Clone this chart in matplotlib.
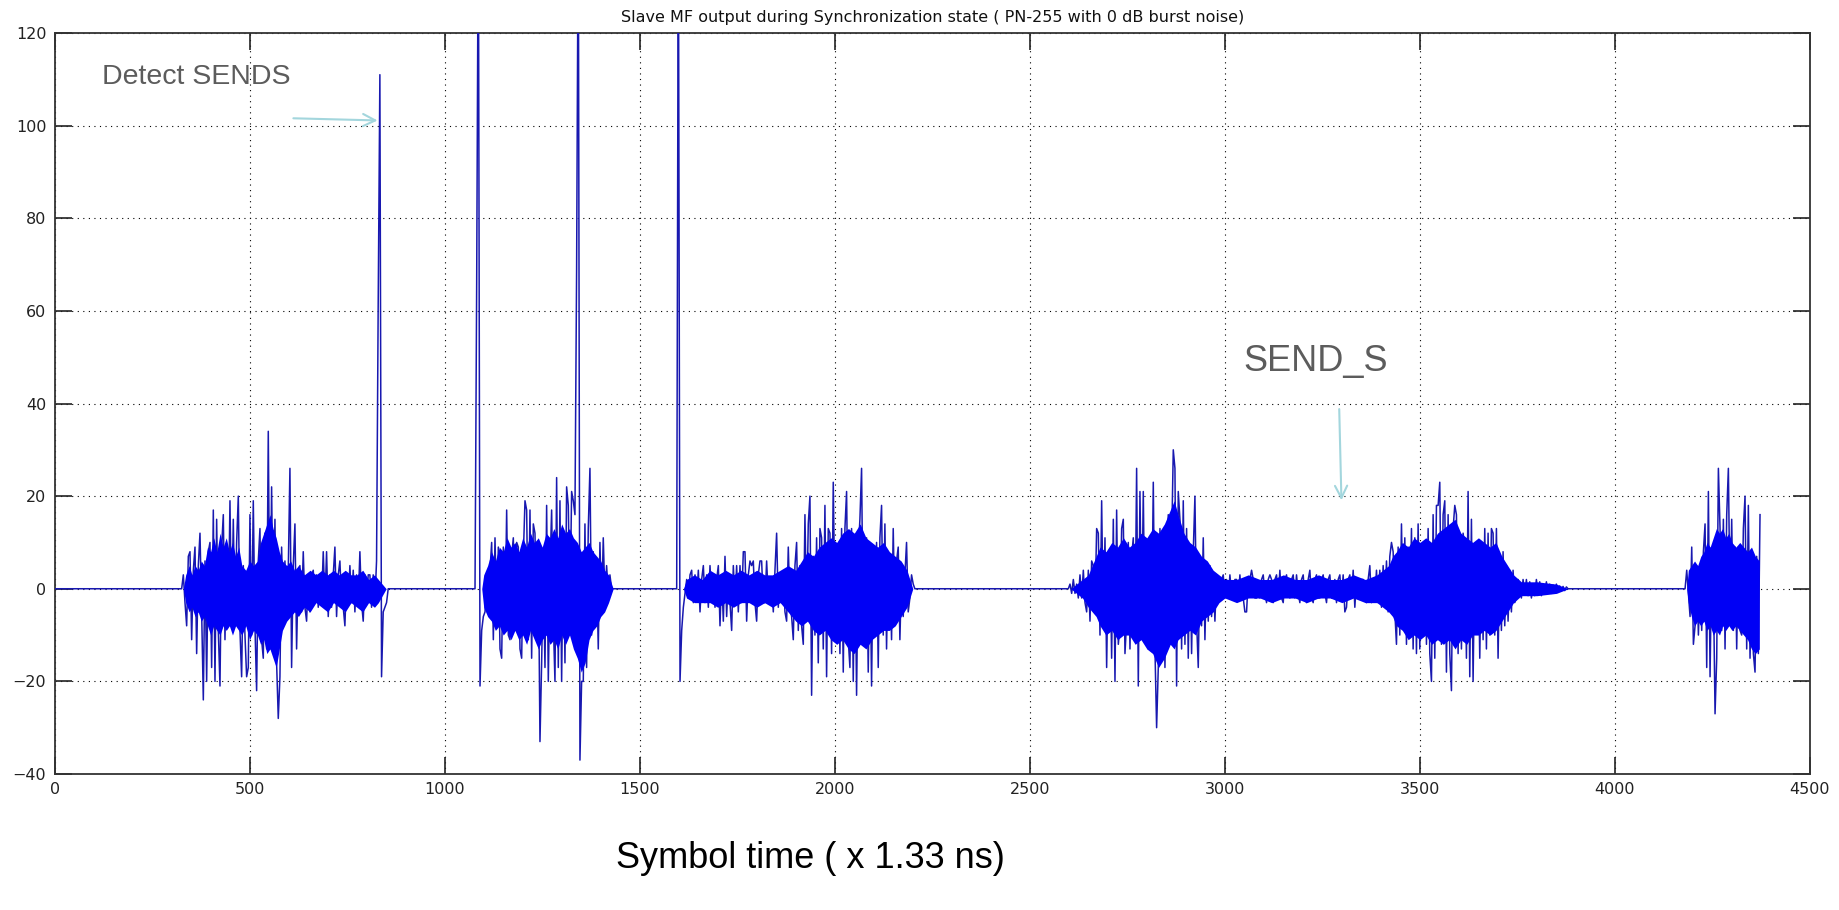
import numpy as np
import matplotlib
matplotlib.use("Agg")
import matplotlib.pyplot as plt

# ---------------- data ----------------
title = "Slave MF output during Synchronization state ( PN-255 with 0 dB burst noise)"
xlabel = "Symbol time ( x 1.33 ns)"
x_ticks = [0, 500, 1000, 1500, 2000, 2500, 3000, 3500, 4000, 4500]
y_ticks = [-40, -20, 0, 20, 40, 60, 80, 100, 120]

sample_step = 4.27          # symbol spacing of the read-off samples
signal_end = 4372

burst1_start = 330.0
burst1 = [3, -3, -8, 7, 8, -11, 4, 9, -14, 5, 12, -5, -24, 6, -20, 8, 10, -17, 17, -20,
          15, -9, -21, 9, 16, -11, 9, -8, 19, -8, 15, -8, 10, 20, -9, -19, 5, -10, -19, -17,
          16, -10, 19, -8, -22, 6, 13, -11, -15, 12, -13, 34, -12, 22, -10, 15, -16, -28, -19, 9,
          -5, 6, -6, 4, 26, -17, 5, 14, -13, 4, 5, -5, 8, -4, -7, 3, -5, 3, 4, -3,
          3, -4, 3, -3, 8, -3, 8, -6, 3, -4, 3, 9, -6, 3, 6, -3, -4, -8, 3, -3,
          5, -3, 4, -5, 3, -3, 8, -3, -7, 3, -3, 3, 3, -4, 3, -3, 6, 62, 111, -19,
          -5, -4, -3, 0]

burst2_start = 1082.0
burst2 = [66, 150, -21, -9, -6, -5, 2, -3, 4, 10, -11, 11, -6, 9, -13, -15, 9, -8, 17, -10,
          -11, 7, 11, -8, 10, 9, -13, -15, 7, 19, 17, -11, 17, -15, 14, 12, -7, 8, -33, -16,
          5, -17, 18, -20, 4, 17, -7, -20, 24, -17, 19, -20, 12, -16, 22, 18, -5, 21, 19, 16,
          69, 150, -37, -20, -20, 14, -17, 13, 26, -10, 8, -6, 5, -13, 10, -5, 11, -2, 5, -1,
          3, 0]

burst3_start = 1599.0
burst3 = [150, -20, -9, -4, -1, 2, -2, 3, 4, -3, 3, -2, 4, -5, 2, 5, -3, 3, -4, 5,
          -2, 3, -4, 2, 5, -8, 3, -7, 7, -6, 3, -3, -9, 5, -3, 5, -5, 5, -3, 8,
          8, -7, 3, 6, 5, 6, -3, -7, 3, 6, 6, -3, -3, 6, -2, -3, 2, -5, 4, 12,
          -4, 3, -3, 3, -5, -7, 9, -4, -6, -11, 5, 10, -9, 5, -8, -12, 16, -6, 14, 20,
          -23, 7, -10, 11, -16, 13, 11, -13, 18, -19, 13, 12, -14, 23, -5, -10, 7, -14, 13, -18,
          13, 21, -11, -17, 13, -20, 11, -23, 8, 15, 26, -10, -12, 11, -18, 9, -21, 9, -9, 10,
          -17, 11, 18, -10, 14, -13, 8, 6, -11, 13, -7, 6, 9, -11, 3, -6, 3, 10, -5, -2,
          3, 1, 0]

burst4_start = 2603.0
burst4 = [1, -1, 2, -1, 1, -2, 3, -2, 4, -3, -5, 4, -7, 6, 5, -4, 13, 12, -10, 19,
          -8, 11, -17, 7, 8, -15, 15, -20, 17, -12, -8, 13, 15, -14, -7, 10, -13, 7, 11, -10,
          26, -21, 21, -9, 21, -11, 8, -13, 11, -9, 23, -13, -30, -17, 13, -10, 7, -17, 8, 16,
          -11, 9, 30, 26, -21, 21, 15, -13, 19, -12, 13, -15, 9, -14, 8, 20, -7, -17, 6, -8,
          11, -11, 5, -7, 5, -6, 3, -7, 3, -2, -2, 2, 3, -2, 2, -2, 3, -1, -2, 2,
          2, -2, 3, -2, -2, -5, -5, 2, 2, 4, 2, -2, -2, 1, -2, 2, 3, -1, -3, 2,
          3, 2, -3, 2, 3, -2, 4, -2, -3, 2, 3, -1, -2, 2, 3, -2, 3, -1, -3, 2,
          3, -2, -3, 2, 4, -2, -3, 2, 3, -2, -2, 2, 3, -1, -3, 2, 3, -2, -2, 2,
          -3, 2, 3, -2, 3, -5, -4, 2, 3, -2, 4, -4, 2, -2, -2, 2, 2, -2, -3, 2,
          5, -3, 2, -2, 4, -3, 4, -4, 5, -4, 6, -5, 7, 10, 8, -5, -12, 9, -10, 14,
          -6, 11, -12, 9, -10, 13, -13, 11, -14, 14, -13, 8, -10, 10, -12, 13, -14, -20, 16, -15,
          18, 18, 23, -12, 16, 19, -18, 16, -14, -22, 13, 18, 16, -14, 10, -13, 12, 9, -15, 21,
          -19, 15, -20, 9, -9, 10, -15, 9, -11, 13, -13, 12, -10, 13, 12, -10, 13, -15, 7, -9,
          8, -8, 5, -7, 4, -5, 4, -3, -2, 2, 1, -2, 2, -1, 2, -1.5, 1.5, -2, 1, -1.5,
          2, -1, 1.5, -1.5, 1, -1, 1.5, -1, 1, -1, 0.8, -0.8, 1, -0.6, 0.6, -0.5, 0.5, -0.4, 0.4, 0]

burst5_start = 4184.0
burst5 = [4, -1, -6, 9, -12, -8, 5, -10, 2, -9, 8, 14, -17, 21, -19, 8, 1, -27, -15, 26,
          13, -9, 15, -13, 16, 26, -4, 15, -9, 9, -13, 9, -9, -10, 13, 20, -13, 18, -15, 3,
          -14, -18, 7, -14, 16]

# dense core of each burst (solid blue band): position, upper and lower limit
core_x = [330, 336, 345, 352, 360, 368, 376, 384, 392, 400, 408, 416, 424, 432, 440, 448,
          456, 464, 472, 480, 490, 500, 510, 520, 528, 536, 544, 552, 560, 568, 576, 584,
          595, 605, 615, 625, 640, 655, 670, 685, 700, 715, 730, 745, 760, 775, 790, 805,
          820, 830, 850,
          1095, 1100, 1110, 1120, 1130, 1140, 1150, 1160, 1170, 1180, 1190, 1200, 1210, 1220,
          1230, 1240, 1250, 1260, 1270, 1280, 1290, 1300, 1310, 1320, 1330, 1340, 1350, 1360,
          1370, 1380, 1390, 1400, 1410, 1420, 1432,
          1612, 1620, 1640, 1660, 1680, 1700, 1720, 1740, 1760, 1780, 1800, 1820, 1840, 1860,
          1880, 1900, 1915, 1930, 1945, 1960, 1975, 1990, 2005, 2020, 2035, 2050, 2065, 2080,
          2095, 2110, 2125, 2140, 2155, 2170, 2185, 2200,
          2605, 2620, 2635, 2650, 2660, 2670, 2680, 2695, 2710, 2725, 2740, 2755, 2770, 2785,
          2800, 2815, 2830, 2845, 2860, 2870, 2880, 2895, 2910, 2925, 2940, 2955, 2970, 2985,
          3000, 3030, 3060, 3090, 3120, 3150, 3180, 3210, 3240, 3270, 3300, 3330, 3360, 3390,
          3405, 3420, 3430, 3440, 3455, 3470, 3485, 3500, 3515, 3530, 3545, 3560, 3575, 3590,
          3605, 3620, 3635, 3650, 3665, 3680, 3695, 3710, 3725, 3740, 3760, 3800, 3850, 3880,
          4184, 4188, 4196, 4204, 4212, 4220, 4228, 4236, 4244, 4252, 4260, 4268, 4276, 4284,
          4292, 4300, 4310, 4320, 4330, 4340, 4350, 4360, 4370]
core_hi = [0, 3, 5, 3, 5, 4, 6, 5, 9, 8, 11, 8, 12, 9, 11, 8,
           10, 7, 9, 5, 4, 6, 5, 6, 10, 12, 14, 16, 13, 11, 8, 6,
           5, 6, 4, 5, 3, 4, 3, 4, 3, 4, 3, 4, 3, 3, 4, 2,
           3, 2, 0,
           0, 3, 5, 8, 6, 9, 8, 11, 9, 10, 8, 11, 9, 12,
           10, 11, 9, 12, 11, 13, 11, 14, 12, 13, 11, 10, 8, 9,
           10, 8, 7, 6, 4, 3, 0,
           0, 2, 3, 2, 4, 3, 4, 3, 4, 3, 4, 3, 3, 4,
           5, 4, 6, 8, 7, 9, 10, 11, 10, 12, 13, 12, 14, 11,
           10, 9, 10, 8, 7, 6, 4, 0,
           0, 1, 2, 3, 5, 7, 9, 8, 10, 9, 11, 9, 10, 12,
           11, 13, 12, 14, 17, 19, 16, 12, 10, 9, 7, 6, 4, 3,
           2, 2, 3, 2, 2, 3, 2, 2, 3, 2, 2, 3, 2, 3,
           4, 5, 7, 8, 10, 9, 11, 10, 11, 10, 12, 13, 14, 15,
           12, 11, 10, 11, 10, 9, 10, 7, 5, 3, 1.5, 1.5, 1, 0,
           0, 4, 5, 6, 5, 7, 8, 10, 9, 11, 13, 12, 13, 11,
           12, 10, 9, 10, 9, 8, 9, 7, 6]
core_lo = [0, -3, -5, -4, -6, -5, -7, -6, -8, -10, -8, -9, -10, -8, -9, -8,
           -10, -8, -9, -10, -8, -11, -9, -10, -12, -11, -14, -13, -15, -17, -13, -9,
           -7, -6, -5, -6, -4, -5, -3, -4, -5, -3, -4, -5, -3, -4, -5, -3,
           -4, -3, 0,
           0, -4, -6, -7, -9, -8, -10, -9, -11, -9, -11, -10, -12, -9,
           -11, -13, -11, -10, -12, -11, -13, -10, -12, -10, -13, -15, -18, -16,
           -11, -9, -8, -6, -5, -3, 0,
           0, -2, -3, -3, -3, -4, -3, -4, -3, -3, -4, -3, -4, -3,
           -5, -7, -8, -7, -9, -10, -9, -11, -12, -11, -13, -14, -12, -13,
           -11, -10, -9, -9, -8, -6, -4, 0,
           0, -1, -2, -4, -5, -6, -8, -10, -9, -11, -10, -10, -12, -11,
           -13, -14, -17, -15, -12, -13, -11, -10, -9, -10, -7, -6, -5, -3,
           -2, -3, -2, -2, -3, -2, -2, -3, -2, -2, -3, -2, -3, -3,
           -4, -5, -6, -8, -9, -11, -10, -11, -10, -12, -11, -12, -11, -13,
           -11, -12, -10, -10, -9, -10, -9, -7, -5, -3, -1.5, -1.5, -1, 0,
           0, -3, -6, -8, -7, -8, -7, -9, -8, -10, -9, -10, -8, -9,
           -8, -9, -8, -9, -10, -11, -13, -14, -13]

bursts = [(burst1_start, burst1), (burst2_start, burst2), (burst3_start, burst3),
          (burst4_start, burst4), (burst5_start, burst5)]

# build the trace: flat (quiet) stretches between bursts
xs = [0.0]
ys = [0.0]
for start, vals in bursts:
    bx = start + sample_step * np.arange(len(vals))
    xs.append(start - sample_step)
    ys.append(0.0)
    xs.extend(bx.tolist())
    ys.extend(vals)
xs = np.array(xs)
ys = np.array(ys, dtype=float)
keep = xs <= signal_end
xs, ys = xs[keep], ys[keep]

# ---------------- figure ----------------
W, H = 1840, 910
fig = plt.figure(figsize=(W / 100, H / 100), dpi=100)
ax = fig.add_axes([54.6 / W, 1 - 774 / H, (1810 - 54.6) / W, (774 - 33) / H])

ax.plot(xs, ys, color="#1818b0", lw=1.1, zorder=3)
ax.fill_between(core_x, core_lo, core_hi, color="#0000f5", lw=0, zorder=4)

ax.set_xlim(0, 4500)
ax.set_ylim(-40, 120)
ax.set_xticks(x_ticks)
ax.set_yticks(y_ticks)
ax.grid(True, color="black", linestyle=(0, (1, 4.0)), linewidth=0.8)
ax.set_axisbelow(True)
ax.tick_params(direction="in", length=12, width=1.2, top=True, right=True,
               labelsize=11.5, colors="#222222", pad=6)
for s in ax.spines.values():
    s.set_color("#333333")
    s.set_linewidth(1.3)

ax.set_title(title, fontsize=11.5, pad=8, color="#111111")
fig.text(810 / W, 1 - 858 / H, xlabel, ha="center", va="center",
         fontsize=26, family="Liberation Sans", color="black")

ann_color = "#5c5c5c"
arrow_color = "#a3d6dd"
ax.text(122, 110.6, "Detect SENDS", fontsize=20.5, family="Liberation Sans",
        color=ann_color, ha="left", va="center")
ax.annotate("", xy=(835, 101.1), xytext=(605, 101.6),
            arrowprops=dict(arrowstyle="->", color=arrow_color, lw=1.5,
                            mutation_scale=22))
ax.text(3047, 49.1, "SEND_S", fontsize=26, family="Liberation Sans",
        color=ann_color, ha="left", va="center")
ax.annotate("", xy=(3299, 18.5), xytext=(3293, 39.4),
            arrowprops=dict(arrowstyle="->", color=arrow_color, lw=1.5,
                            mutation_scale=22))

fig.savefig("out.png", dpi=100)
